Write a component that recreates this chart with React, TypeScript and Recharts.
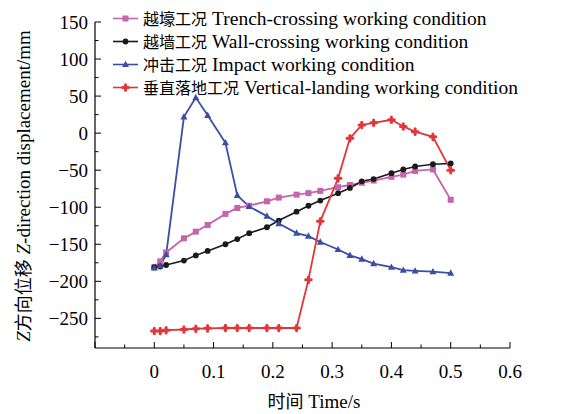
import React from 'react';
import { LineChart, Line, XAxis, YAxis, Legend } from 'recharts';

// sample times (s), shared by all four cases
const times = [0, 0.01, 0.02, 0.05, 0.07, 0.09, 0.12, 0.14, 0.16, 0.19, 0.21, 0.24, 0.26, 0.28, 0.31, 0.33, 0.35, 0.37, 0.4, 0.42, 0.44, 0.47, 0.5];

// Z-direction displacement (mm)
const trench = [-181, -173, -161, -142, -133, -124, -109, -101, -98, -92, -87, -83, -81, -78, -73, -70, -67, -64, -59, -56, -51, -49, -90];
const wall = [-181, -180, -178, -172, -165, -159, -150, -143, -135, -127, -118, -106, -98, -91, -81, -74, -65, -62, -54, -49, -45, -42, -41];
const impact = [-182, -179, -164, 22, 48, 24, -13, -84, -99, -112, -122, -135, -139, -147, -157, -165, -170, -176, -181, -185, -186, -187, -189];
const vertical = [-267, -267, -266, -265, -264, -263.5, -263, -263, -263, -263, -263, -263, -198, -119, -61, -7, 11, 14, 18, 9, 2, -5, -50];

const yMajor = [150, 100, 50, 0, -50, -100, -150, -200, -250];
const yMinor = [125, 75, 25, -25, -75, -125, -175, -225, -275];
const xMajor = [-0.1, 0, 0.1, 0.2, 0.3, 0.4, 0.5, 0.6];
const xMinor = [-0.05, 0.05, 0.15, 0.25, 0.35, 0.45, 0.55];

const seriesCn = { trench: '越壕工况', wall: '越墙工况', impact: '冲击工况', vertical: '垂直落地工况' };
const seriesEn = {
  trench: 'Trench-crossing working condition',
  wall: 'Wall-crossing working condition',
  impact: 'Impact working condition',
  vertical: 'Vertical-landing working condition',
};

const data = times.map((t, i) => ({
  t,
  trench: trench[i],
  wall: wall[i],
  impact: impact[i],
  vertical: vertical[i],
}));

const FONT = '"Liberation Serif", "Times New Roman", "Noto Sans CJK SC", serif';
const CJK = '"Noto Sans CJK SC", sans-serif';
const colors = {
  trench: '#c664ae',
  wall: '#1a1a1a',
  impact: '#3a4ea6',
  vertical: '#e2373a',
};

const fmt = (v: number) => (v < 0 ? '\u2212' + Math.abs(v) : String(v));

const Marker = ({ kind, cx, cy }: { kind: string; cx: number; cy: number }) => {
  const c = (colors as any)[kind];
  if (kind === 'trench') return <rect x={cx - 3} y={cy - 3} width={6} height={6} fill={c} />;
  if (kind === 'wall') return <circle cx={cx} cy={cy} r={2.9} fill={c} />;
  if (kind === 'impact')
    return <path d={`M${cx},${cy - 3.8} L${cx + 3.5},${cy + 2.6} L${cx - 3.5},${cy + 2.6} Z`} fill={c} />;
  return (
    <g stroke={c} strokeWidth={3} strokeLinecap="round">
      <line x1={cx - 2.8} y1={cy} x2={cx + 2.8} y2={cy} />
      <line x1={cx} y1={cy - 2.8} x2={cx} y2={cy + 2.8} />
    </g>
  );
};

const dotFor = (kind: string) => (props: any) => {
  if (props.cx == null || props.cy == null) return <g key={props.index} />;
  return <Marker key={props.index} kind={kind} cx={props.cx} cy={props.cy} />;
};

const YTick = (props: any) => {
  const { x, y, payload } = props;
  const major = yMajor.includes(payload.value);
  return (
    <g>
      <line x1={x} y1={y} x2={x + (major ? 6 : 3.5)} y2={y} stroke="#000" strokeWidth={1} />
      {major && (
        <text x={x - 7} y={y} dy="0.35em" textAnchor="end" fontSize={19} fontFamily={FONT} fill="#000">
          {fmt(payload.value)}
        </text>
      )}
    </g>
  );
};

const XTick = (props: any) => {
  const { x, y, payload } = props;
  const v = Math.round(payload.value * 100) / 100;
  const major = xMajor.some((m) => Math.abs(m - v) < 1e-6);
  return (
    <g>
      <line x1={x} y1={y} x2={x} y2={y - (major ? 6 : 3.5)} stroke="#000" strokeWidth={1} />
      {major && v >= 0 && (
        <text x={x} y={y + 30} textAnchor="middle" fontSize={19} fontFamily={FONT} fill="#000">
          {String(v)}
        </text>
      )}
    </g>
  );
};

const renderLegend = () => (
  <div style={{ fontFamily: FONT, fontSize: 19.5, color: '#000' }}>
    {(['trench', 'wall', 'impact', 'vertical'] as const).map((k) => (
      <div key={k} style={{ display: 'flex', alignItems: 'center', height: 23, lineHeight: '23px', whiteSpace: 'nowrap' }}>
        <svg width={31} height={23} style={{ flex: 'none' }}>
          <line x1={3} y1={11.5} x2={28} y2={11.5} stroke={colors[k]} strokeWidth={1.6} />
          <Marker kind={k} cx={15.5} cy={11.5} />
        </svg>
        <span style={{ marginLeft: 2, fontFamily: CJK, fontSize: 16 }}>{seriesCn[k]}</span>
        <span style={{ marginLeft: 5 }}>{seriesEn[k]}</span>
      </div>
    ))}
  </div>
);

export default function App() {
  return (
    <div style={{ position: 'absolute', left: 0, top: 0, background: '#fff' }}>
      <LineChart width={561} height={414} data={data} margin={{ top: 22, right: 51, bottom: 36, left: 35 }}>
        <XAxis
          dataKey="t"
          type="number"
          domain={[-0.1, 0.6]}
          ticks={[...xMajor, ...xMinor].sort((a, b) => a - b)}
          interval={0}
          height={30}
          tickSize={0}
          tickMargin={0}
          tickLine={false}
          tick={<XTick />}
          axisLine={{ stroke: '#000', strokeWidth: 1.2 }}
          allowDataOverflow
          label={{
            content: () => (
              <text x={314} y={408} textAnchor="middle" fontSize={19} fontFamily={FONT} fill="#000">
                <tspan fontFamily={CJK} fontSize={18}>时间</tspan>
                <tspan> Time/s</tspan>
              </text>
            ),
          }}
        />
        <YAxis
          type="number"
          domain={[-290, 150]}
          ticks={[...yMajor, ...yMinor].sort((a, b) => a - b)}
          interval={0}
          width={60}
          tickSize={0}
          tickMargin={0}
          tickLine={false}
          tick={<YTick />}
          axisLine={{ stroke: '#000', strokeWidth: 1.2 }}
          allowDataOverflow
          label={{
            content: () => (
              <text
                x={23}
                y={186}
                transform="rotate(-90 23 186)"
                textAnchor="middle"
                dy="0.35em"
                fontSize={19}
                fontFamily={FONT}
                fill="#000"
              >
                <tspan fontStyle="italic">Z</tspan>
                <tspan fontFamily={CJK} fontSize={18}>方向位移</tspan>
                <tspan> </tspan>
                <tspan fontStyle="italic">Z</tspan>
                <tspan>-direction displacement/mm</tspan>
              </text>
            ),
          }}
        />
        <Legend
          layout="vertical"
          align="center"
          verticalAlign="middle"
          content={renderLegend}
          wrapperStyle={{ position: 'absolute', left: 110, top: 7, width: 460 }}
        />
        <Line dataKey="trench" stroke={colors.trench} strokeWidth={1.8} dot={dotFor('trench')} isAnimationActive={false} />
        <Line dataKey="wall" stroke={colors.wall} strokeWidth={1.6} dot={dotFor('wall')} isAnimationActive={false} />
        <Line dataKey="impact" stroke={colors.impact} strokeWidth={1.8} dot={dotFor('impact')} isAnimationActive={false} />
        <Line dataKey="vertical" stroke={colors.vertical} strokeWidth={1.8} dot={dotFor('vertical')} isAnimationActive={false} />
      </LineChart>
    </div>
  );
}
